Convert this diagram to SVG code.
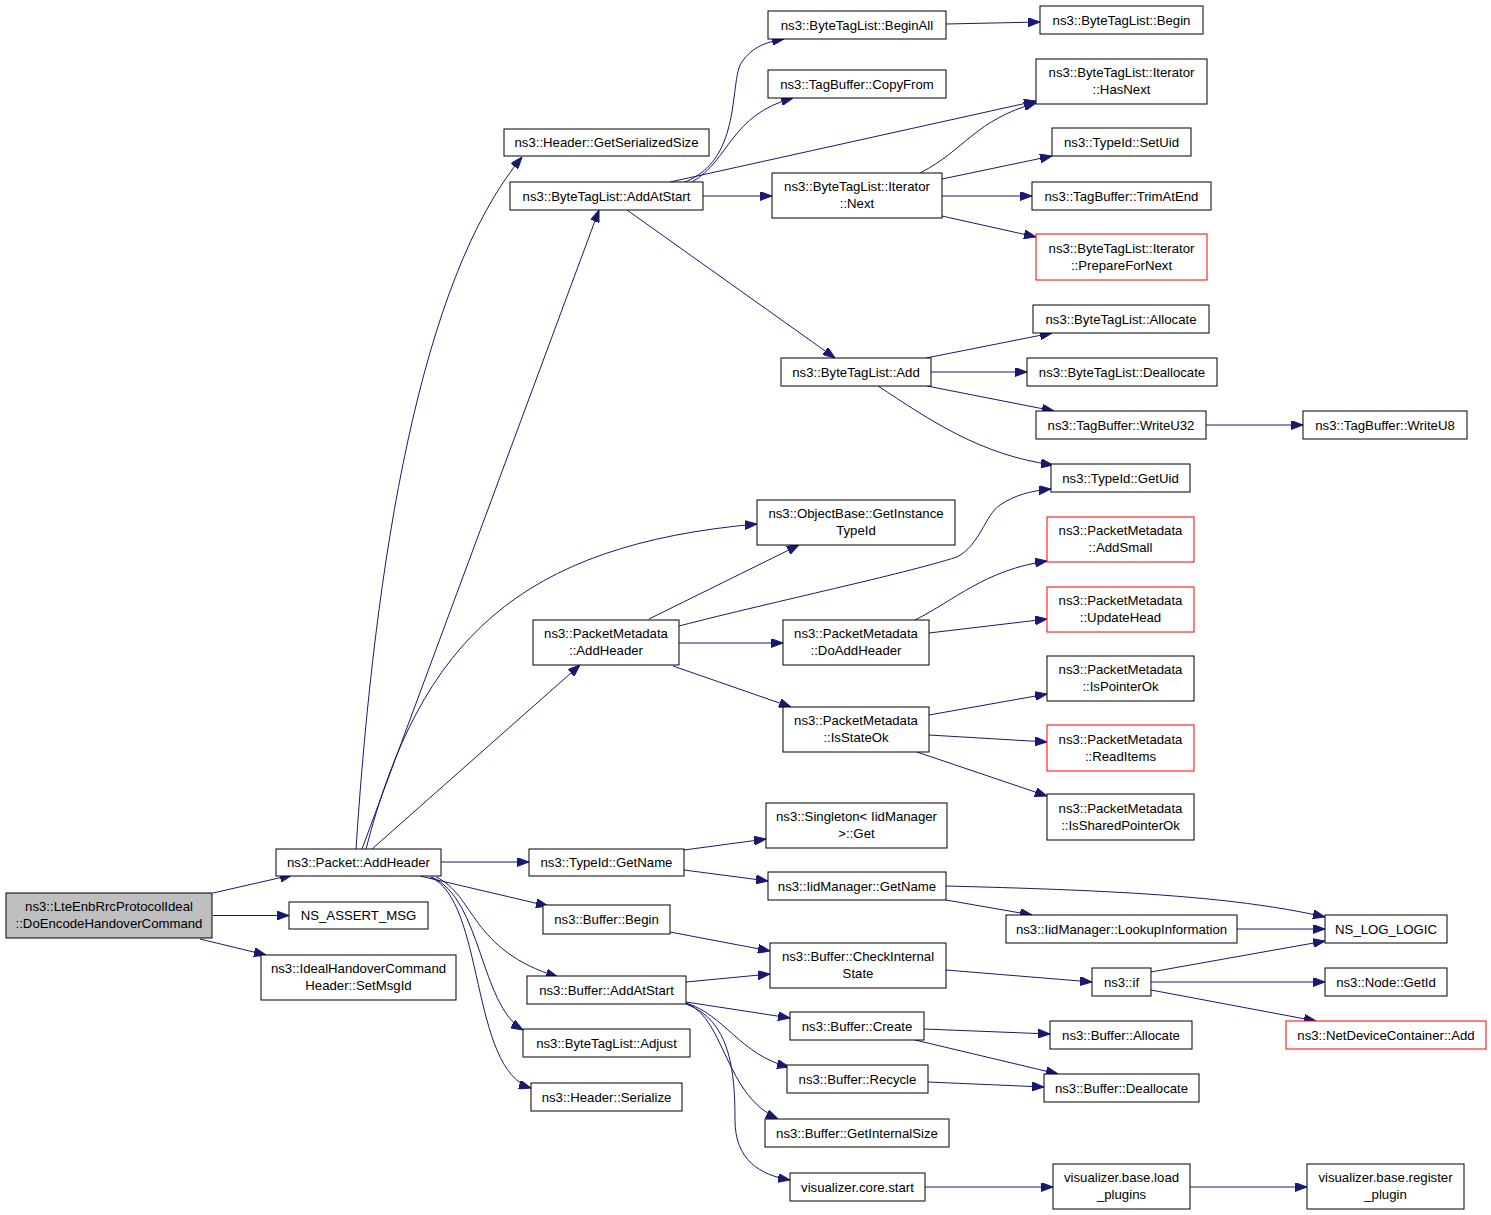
<svg xmlns="http://www.w3.org/2000/svg" width="1491" height="1215" viewBox="0 0 1491 1215">
<style>
.n rect{fill:#ffffff;stroke:#000000;stroke-width:1}
.n.root rect{fill:#bfbfbf}
.n.red rect{stroke:#ff0000}
.n text{font-family:"Liberation Sans",Arial,Helvetica,sans-serif;font-size:13.2px;fill:#000000;text-anchor:middle}
#edges path{fill:none;stroke:#191970;stroke-width:1;marker-end:url(#arr)}
</style>
<defs>
<marker id="arr" viewBox="0 0 12 9" markerWidth="12" markerHeight="9" refX="12" refY="4.5" markerUnits="userSpaceOnUse" orient="auto">
<path d="M0,0 L12,4.5 L0,9 z" fill="#191970" stroke="#191970" stroke-width="1"/>
</marker>
</defs>
<rect width="1491" height="1215" fill="#ffffff"/>
<g id="edges">
<path d="M213,893 L292,875"/>
<path d="M213,915.5 L289,915.5"/>
<path d="M200,939 L266,955"/>
<path d="M356,849 C375,560 420,280 522,157"/>
<path d="M362,849 L599,210"/>
<path d="M366,849 C420,640 520,545 757,524"/>
<path d="M372,849 L580,665"/>
<path d="M441,862 L529,862"/>
<path d="M420,876 L548,906"/>
<path d="M436,877 C475,895 470,950 558,977"/>
<path d="M432,877 C482,900 480,1005 523,1030"/>
<path d="M430,877 C485,900 470,1070 531,1088"/>
<path d="M686,982 L770,974"/>
<path d="M686,1002 L790,1018"/>
<path d="M686,1003 C725,1015 740,1055 789,1067"/>
<path d="M688,1004 C725,1020 725,1095 778,1119"/>
<path d="M686,1004 C730,1020 735,1070 735,1120 C735,1160 760,1175 790,1180"/>
<path d="M670,932 L770,951"/>
<path d="M684,850 L766,839"/>
<path d="M684,870 L768,881"/>
<path d="M946,886 C1100,890 1230,895 1325,917"/>
<path d="M946,900 L1032,915"/>
<path d="M1237,929 L1325,929"/>
<path d="M946,970 L1092,982"/>
<path d="M1151,972 L1325,941"/>
<path d="M1151,982 L1325,982"/>
<path d="M1151,990 L1316,1021"/>
<path d="M924,1029 L1050,1034"/>
<path d="M915,1040 L1058,1074"/>
<path d="M928,1082 L1044,1087"/>
<path d="M925,1187 L1053,1187"/>
<path d="M1190,1187 L1307,1187"/>
<path d="M685,182 C740,160 730,90 740,65 C750,48 765,42 784,39"/>
<path d="M692,182 C730,160 730,115 793,98"/>
<path d="M670,182 L1036,101"/>
<path d="M703,196 L772,196"/>
<path d="M627,210 L835,358"/>
<path d="M920,173 C965,150 975,120 1036,103"/>
<path d="M942,179 L1052,156"/>
<path d="M942,196 L1032,196"/>
<path d="M942,216 L1036,237"/>
<path d="M946,24 L1040,22"/>
<path d="M926,358 L1052,333"/>
<path d="M931,372 L1027,372"/>
<path d="M927,386 L1054,411"/>
<path d="M878,386 C930,420 980,455 1053,465"/>
<path d="M1206,425 L1303,425"/>
<path d="M649,619 L799,545"/>
<path d="M679,626 C780,600 900,575 957,557 C980,545 985,515 1000,505 C1015,495 1030,491 1051,489"/>
<path d="M679,643 L783,643"/>
<path d="M673,666 L791,707"/>
<path d="M915,620 C955,600 985,570 1047,561"/>
<path d="M929,633 L1047,619"/>
<path d="M929,715 L1047,694"/>
<path d="M929,735 L1047,742"/>
<path d="M917,752 L1047,796"/>
</g>
<g id="n1" class="n root"><rect x="6" y="893" width="206" height="45"/><text x="109" y="911">ns3::LteEnbRrcProtocolIdeal</text><text x="109" y="928">::DoEncodeHandoverCommand</text></g>
<g id="n2" class="n"><rect x="276" y="849" width="165" height="27"/><text x="358.5" y="867">ns3::Packet::AddHeader</text></g>
<g id="n3" class="n"><rect x="289" y="902" width="139" height="27"/><text x="358.5" y="920">NS_ASSERT_MSG</text></g>
<g id="n4" class="n"><rect x="261" y="955" width="195" height="45"/><text x="358.5" y="973">ns3::IdealHandoverCommand</text><text x="358.5" y="990">Header::SetMsgId</text></g>
<g id="n5" class="n"><rect x="504" y="129" width="205" height="27"/><text x="606.5" y="147">ns3::Header::GetSerializedSize</text></g>
<g id="n6" class="n"><rect x="510" y="182" width="193" height="28"/><text x="606.5" y="200.5">ns3::ByteTagList::AddAtStart</text></g>
<g id="n7" class="n"><rect x="768" y="11" width="178" height="28"/><text x="857" y="29.5">ns3::ByteTagList::BeginAll</text></g>
<g id="n8" class="n"><rect x="768" y="70" width="178" height="28"/><text x="857" y="88.5">ns3::TagBuffer::CopyFrom</text></g>
<g id="n9" class="n"><rect x="772" y="173" width="170" height="45"/><text x="857" y="191">ns3::ByteTagList::Iterator</text><text x="857" y="208">::Next</text></g>
<g id="n10" class="n"><rect x="1040" y="6" width="163" height="28"/><text x="1121.5" y="24.5">ns3::ByteTagList::Begin</text></g>
<g id="n11" class="n"><rect x="1036" y="59" width="171" height="45"/><text x="1121.5" y="77">ns3::ByteTagList::Iterator</text><text x="1121.5" y="94">::HasNext</text></g>
<g id="n12" class="n"><rect x="1052" y="128" width="139" height="28"/><text x="1121.5" y="146.5">ns3::TypeId::SetUid</text></g>
<g id="n13" class="n"><rect x="1032" y="182" width="179" height="28"/><text x="1121.5" y="200.5">ns3::TagBuffer::TrimAtEnd</text></g>
<g id="n14" class="n red"><rect x="1036" y="234" width="171" height="46"/><text x="1121.5" y="252.5">ns3::ByteTagList::Iterator</text><text x="1121.5" y="269.5">::PrepareForNext</text></g>
<g id="n15" class="n"><rect x="781" y="358" width="150" height="28"/><text x="856" y="376.5">ns3::ByteTagList::Add</text></g>
<g id="n16" class="n"><rect x="1033" y="305" width="176" height="28"/><text x="1121" y="323.5">ns3::ByteTagList::Allocate</text></g>
<g id="n17" class="n"><rect x="1027" y="358" width="190" height="28"/><text x="1122" y="376.5">ns3::ByteTagList::Deallocate</text></g>
<g id="n18" class="n"><rect x="1036" y="411" width="170" height="28"/><text x="1121" y="429.5">ns3::TagBuffer::WriteU32</text></g>
<g id="n19" class="n"><rect x="1303" y="411" width="164" height="28"/><text x="1385" y="429.5">ns3::TagBuffer::WriteU8</text></g>
<g id="n20" class="n"><rect x="1051" y="464" width="139" height="28"/><text x="1120.5" y="482.5">ns3::TypeId::GetUid</text></g>
<g id="n21" class="n"><rect x="757" y="500" width="198" height="45"/><text x="856" y="518">ns3::ObjectBase::GetInstance</text><text x="856" y="535">TypeId</text></g>
<g id="n22" class="n"><rect x="533" y="620" width="146" height="45"/><text x="606" y="638">ns3::PacketMetadata</text><text x="606" y="655">::AddHeader</text></g>
<g id="n23" class="n"><rect x="783" y="620" width="146" height="45"/><text x="856" y="638">ns3::PacketMetadata</text><text x="856" y="655">::DoAddHeader</text></g>
<g id="n24" class="n"><rect x="783" y="707" width="146" height="45"/><text x="856" y="725">ns3::PacketMetadata</text><text x="856" y="742">::IsStateOk</text></g>
<g id="n25" class="n red"><rect x="1047" y="517" width="147" height="45"/><text x="1120.5" y="535">ns3::PacketMetadata</text><text x="1120.5" y="552">::AddSmall</text></g>
<g id="n26" class="n red"><rect x="1047" y="587" width="147" height="45"/><text x="1120.5" y="605">ns3::PacketMetadata</text><text x="1120.5" y="622">::UpdateHead</text></g>
<g id="n27" class="n"><rect x="1047" y="656" width="147" height="45"/><text x="1120.5" y="674">ns3::PacketMetadata</text><text x="1120.5" y="691">::IsPointerOk</text></g>
<g id="n28" class="n red"><rect x="1047" y="725" width="147" height="46"/><text x="1120.5" y="743.5">ns3::PacketMetadata</text><text x="1120.5" y="760.5">::ReadItems</text></g>
<g id="n29" class="n"><rect x="1047" y="794" width="147" height="46"/><text x="1120.5" y="812.5">ns3::PacketMetadata</text><text x="1120.5" y="829.5">::IsSharedPointerOk</text></g>
<g id="n30" class="n"><rect x="766" y="803" width="181" height="45"/><text x="856.5" y="821">ns3::Singleton&lt; IidManager</text><text x="856.5" y="838">&gt;::Get</text></g>
<g id="n31" class="n"><rect x="529" y="849" width="155" height="27"/><text x="606.5" y="867">ns3::TypeId::GetName</text></g>
<g id="n32" class="n"><rect x="768" y="872" width="178" height="28"/><text x="857" y="890.5">ns3::IidManager::GetName</text></g>
<g id="n33" class="n"><rect x="543" y="905" width="127" height="29"/><text x="606.5" y="924">ns3::Buffer::Begin</text></g>
<g id="n34" class="n"><rect x="1006" y="915" width="231" height="28"/><text x="1121.5" y="933.5">ns3::IidManager::LookupInformation</text></g>
<g id="n35" class="n"><rect x="1325" y="915" width="122" height="28"/><text x="1386" y="933.5">NS_LOG_LOGIC</text></g>
<g id="n36" class="n"><rect x="770" y="943" width="176" height="45"/><text x="858" y="961">ns3::Buffer::CheckInternal</text><text x="858" y="978">State</text></g>
<g id="n37" class="n"><rect x="1092" y="968" width="59" height="28"/><text x="1121.5" y="986.5">ns3::if</text></g>
<g id="n38" class="n"><rect x="1325" y="968" width="122" height="28"/><text x="1386" y="986.5">ns3::Node::GetId</text></g>
<g id="n39" class="n"><rect x="527" y="976" width="159" height="28"/><text x="606.5" y="994.5">ns3::Buffer::AddAtStart</text></g>
<g id="n40" class="n"><rect x="790" y="1012" width="134" height="28"/><text x="857" y="1030.5">ns3::Buffer::Create</text></g>
<g id="n41" class="n"><rect x="1050" y="1021" width="142" height="28"/><text x="1121" y="1039.5">ns3::Buffer::Allocate</text></g>
<g id="n42" class="n red"><rect x="1286" y="1021" width="200" height="28"/><text x="1386" y="1039.5">ns3::NetDeviceContainer::Add</text></g>
<g id="n43" class="n"><rect x="523" y="1029" width="167" height="28"/><text x="606.5" y="1047.5">ns3::ByteTagList::Adjust</text></g>
<g id="n44" class="n"><rect x="787" y="1065" width="141" height="28"/><text x="857.5" y="1083.5">ns3::Buffer::Recycle</text></g>
<g id="n45" class="n"><rect x="1044" y="1074" width="155" height="28"/><text x="1121.5" y="1092.5">ns3::Buffer::Deallocate</text></g>
<g id="n46" class="n"><rect x="765" y="1119" width="184" height="28"/><text x="857" y="1137.5">ns3::Buffer::GetInternalSize</text></g>
<g id="n47" class="n"><rect x="531" y="1083" width="151" height="28"/><text x="606.5" y="1101.5">ns3::Header::Serialize</text></g>
<g id="n48" class="n"><rect x="790" y="1173" width="135" height="28"/><text x="857.5" y="1191.5">visualizer.core.start</text></g>
<g id="n49" class="n"><rect x="1053" y="1164" width="137" height="45"/><text x="1121.5" y="1182">visualizer.base.load</text><text x="1121.5" y="1199">_plugins</text></g>
<g id="n50" class="n"><rect x="1307" y="1164" width="157" height="45"/><text x="1385.5" y="1182">visualizer.base.register</text><text x="1385.5" y="1199">_plugin</text></g>
</svg>
